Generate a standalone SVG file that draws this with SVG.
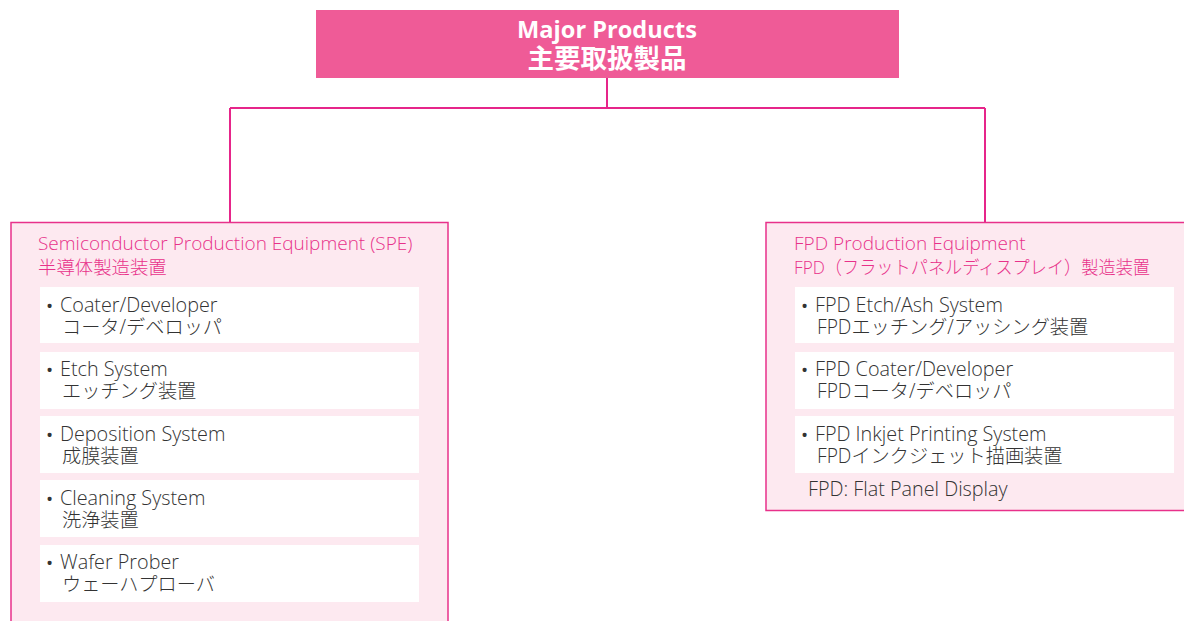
<svg xmlns="http://www.w3.org/2000/svg" width="1184" height="621" viewBox="0 0 1184 621">
<style>
.panel{fill:#fde9f0;stroke:#e8318a;stroke-width:1.5}
.item{fill:#ffffff}
.ttl{font-family:"Open Sans","Noto Sans CJK JP",sans-serif;font-size:19px;font-weight:300;fill:#e8318a}
.ttl .jp{font-size:18.4px}
.it{font-family:"Open Sans","Noto Sans CJK JP",sans-serif;font-size:19.8px;font-weight:300;fill:#333333}
.it .jp{font-size:19.2px}
.it .b{font-size:19px;font-weight:normal}
.top{font-family:"Open Sans","Noto Sans CJK JP",sans-serif;font-weight:bold;fill:#ffffff}
.conn{fill:none;stroke:#e6258a;stroke-width:2}
</style>
<g id="connectors">
<path class="conn" d="M607 78 V108 M230 108 H985 M230 108 V222 M985 108 V222"/>
</g>
<g id="major">
<rect x="316" y="10" width="583" height="68" fill="#ef5b97"/>
<text class="top" text-anchor="middle"><tspan x="607" y="38" font-size="23.6">Major Products</tspan><tspan x="607" y="68" font-size="26.5">主要取扱製品</tspan></text>
</g>
<g id="spe">
<rect class="panel" x="11" y="222.5" width="437" height="420"/>
<text class="ttl"><tspan x="38" y="250">Semiconductor Production Equipment (SPE)</tspan><tspan class="jp" x="38" y="274">半導体製造装置</tspan></text>
</g>
<g id="spe-coater">
<rect class="item" x="40" y="287" width="379" height="56"/>
<text class="it"><tspan class="b" x="46" y="313">•</tspan><tspan x="60" y="312">Coater/Developer</tspan><tspan class="jp" x="62" y="334">コータ/デベロッパ</tspan></text>
</g>
<g id="spe-etch">
<rect class="item" x="40" y="352" width="379" height="57"/>
<text class="it"><tspan class="b" x="46" y="377">•</tspan><tspan x="60" y="376">Etch System</tspan><tspan class="jp" x="62" y="398">エッチング装置</tspan></text>
</g>
<g id="spe-dep">
<rect class="item" x="40" y="416" width="379" height="57"/>
<text class="it"><tspan class="b" x="46" y="442">•</tspan><tspan x="60" y="441">Deposition System</tspan><tspan class="jp" x="62" y="463">成膜装置</tspan></text>
</g>
<g id="spe-clean">
<rect class="item" x="40" y="480" width="379" height="57"/>
<text class="it"><tspan class="b" x="46" y="506">•</tspan><tspan x="60" y="505">Cleaning System</tspan><tspan class="jp" x="62" y="527">洗浄装置</tspan></text>
</g>
<g id="spe-prober">
<rect class="item" x="40" y="545" width="379" height="57"/>
<text class="it"><tspan class="b" x="46" y="570">•</tspan><tspan x="60" y="569">Wafer Prober</tspan><tspan class="jp" x="62" y="591">ウェーハプローバ</tspan></text>
</g>
<g id="fpd">
<rect class="panel" x="766" y="222.5" width="440" height="288"/>
<text class="ttl"><tspan x="794" y="250">FPD Production Equipment</tspan><tspan class="jp" x="794" y="274" textLength="356" lengthAdjust="spacingAndGlyphs">FPD（フラットパネルディスプレイ）製造装置</tspan></text>
<text class="it" x="808" y="496">FPD: Flat Panel Display</text>
</g>
<g id="fpd-etch">
<rect class="item" x="795" y="287" width="379" height="56"/>
<text class="it"><tspan class="b" x="801" y="313">•</tspan><tspan x="815" y="312">FPD Etch/Ash System</tspan><tspan class="jp" x="817" y="334">FPDエッチング/アッシング装置</tspan></text>
</g>
<g id="fpd-coater">
<rect class="item" x="795" y="352" width="379" height="57"/>
<text class="it"><tspan class="b" x="801" y="377">•</tspan><tspan x="815" y="376">FPD Coater/Developer</tspan><tspan class="jp" x="817" y="398">FPDコータ/デベロッパ</tspan></text>
</g>
<g id="fpd-inkjet">
<rect class="item" x="795" y="416" width="379" height="57"/>
<text class="it"><tspan class="b" x="801" y="442">•</tspan><tspan x="815" y="441">FPD Inkjet Printing System</tspan><tspan class="jp" x="817" y="463">FPDインクジェット描画装置</tspan></text>
</g>
</svg>
